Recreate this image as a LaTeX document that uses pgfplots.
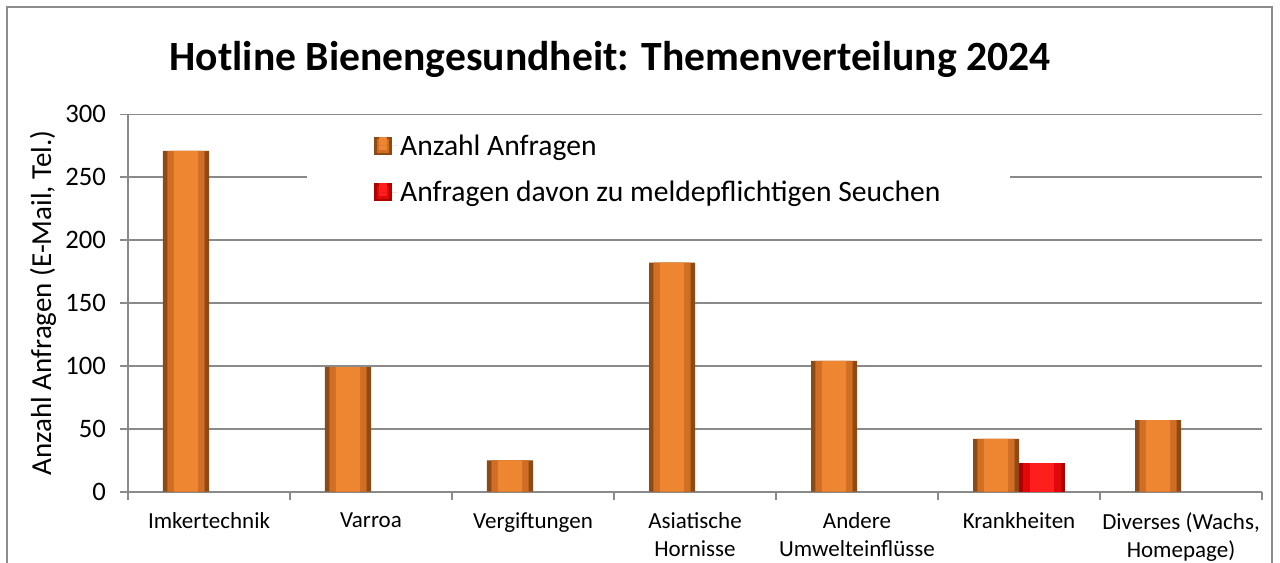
\documentclass[border=0pt]{standalone}
\usepackage{pgfplots}
\pgfplotsset{compat=1.18}
\usepackage{fontspec}
\setmainfont{Carlito}
\definecolor{gridgray}{HTML}{8A8A8A}
\definecolor{framegray}{HTML}{8C8C8C}
\definecolor{orD}{HTML}{8E4A14}
\definecolor{orM}{HTML}{D06E26}
\definecolor{orL}{HTML}{EE8530}
\definecolor{rdD}{HTML}{B00000}
\definecolor{rdM}{HTML}{E00808}
\definecolor{rdL}{HTML}{FF1E1E}
\pgfplotstableread{
x y
0 271
1 99
2 25
3 182
4 104
5 42
6 57
}\anzahl
\pgfplotstableread{
x y
5 23
}\seuchen
\begin{document}
\begin{tikzpicture}[x=0.75pt,y=0.75pt]
\useasboundingbox (0,0) rectangle (1280,562);
\draw[framegray, line width=1.5pt] (7,-30) rectangle (1272,555);
\node[anchor=base, font=\bfseries\fontsize{31.2}{36}\selectfont] at (610,492) {Hotline Bienengesundheit: Themenverteilung 2024};
\begin{axis}[
  at={(96pt,52.725pt)}, anchor=south west,
  scale only axis, width=850.5pt, height=283.05pt,
  xmin=-0.5, xmax=6.5, ymin=0, ymax=300,
  axis x line*=bottom, axis y line*=left,
  axis line style={gridgray, line width=1.2pt, -},
  ytick={0,50,...,300},
  ymajorgrids, grid style={gridgray, line width=1.2pt},
  tick align=outside,
  major tick length=6pt,
  tick style={gridgray, line width=1.2pt},
  xtick={-0.5,0.5,...,6.5},
  x tick label as interval,
  xticklabels={Imkertechnik,Varroa,Vergiftungen,{Asiatische\\Hornisse},{Andere\\Umwelteinflüsse},Krankheiten,{Diverses (Wachs,\\Homepage)}},
  xticklabel style={align=center, font=\fontsize{17.25}{21}\selectfont, yshift=-6pt},
  yticklabel style={font=\fontsize{20}{24}\selectfont, xshift=-7pt},
  /pgf/number format/assume math mode=true,
  ylabel={Anzahl Anfragen (E-Mail, Tel.)},
  every axis y label/.style={at={(axis description cs:-0.075,0.5)}, rotate=90, anchor=center, font=\fontsize{21.75}{26}\selectfont},
  legend style={at={(axis description cs:0.158,0.968)}, anchor=north west, fill=white, draw=none,
    font=\fontsize{22.2}{26}\selectfont, inner xsep=50pt, inner ysep=4pt, row sep=14pt},
  legend cell align=left,
]
\addplot[ybar, bar width=0.284, bar shift=-0.142, draw=none, fill=orD,
  legend image code/.code={\fill[orD] (0pt,-6.75pt) rectangle (13.5pt,6.75pt);
    \fill[orM] (2pt,-5pt) rectangle (11.5pt,5pt);
    \fill[orL] (4pt,-3pt) rectangle (9.5pt,6.75pt);
    \path (0pt,0pt) -- (17.5pt,0pt);}]
  table[x=x,y=y] {\anzahl};
\addlegendentry{Anzahl Anfragen}
\addplot[ybar, bar width=0.284, bar shift=0.142, draw=none, fill=rdD,
  legend image code/.code={\fill[rdD] (0pt,-6.75pt) rectangle (13.5pt,6.75pt);
    \fill[rdM] (2pt,-5pt) rectangle (11.5pt,5pt);
    \fill[rdL] (4pt,-3pt) rectangle (9.5pt,6.75pt);
    \path (0pt,0pt) -- (17.5pt,0pt);}]
  table[x=x,y=y] {\seuchen};
\addlegendentry{Anfragen davon zu meldepflichtigen Seuchen}
\addplot[ybar, bar width=0.23, bar shift=-0.142, draw=none, fill=orM, forget plot] table[x=x,y=y] {\anzahl};
\addplot[ybar, bar width=0.15, bar shift=-0.142, draw=none, fill=orL, forget plot] table[x=x,y=y] {\anzahl};
\addplot[ybar, bar width=0.23, bar shift=0.142, draw=none, fill=rdM, forget plot] table[x=x,y=y] {\seuchen};
\addplot[ybar, bar width=0.15, bar shift=0.142, draw=none, fill=rdL, forget plot] table[x=x,y=y] {\seuchen};
\end{axis}
\end{tikzpicture}
\end{document}
